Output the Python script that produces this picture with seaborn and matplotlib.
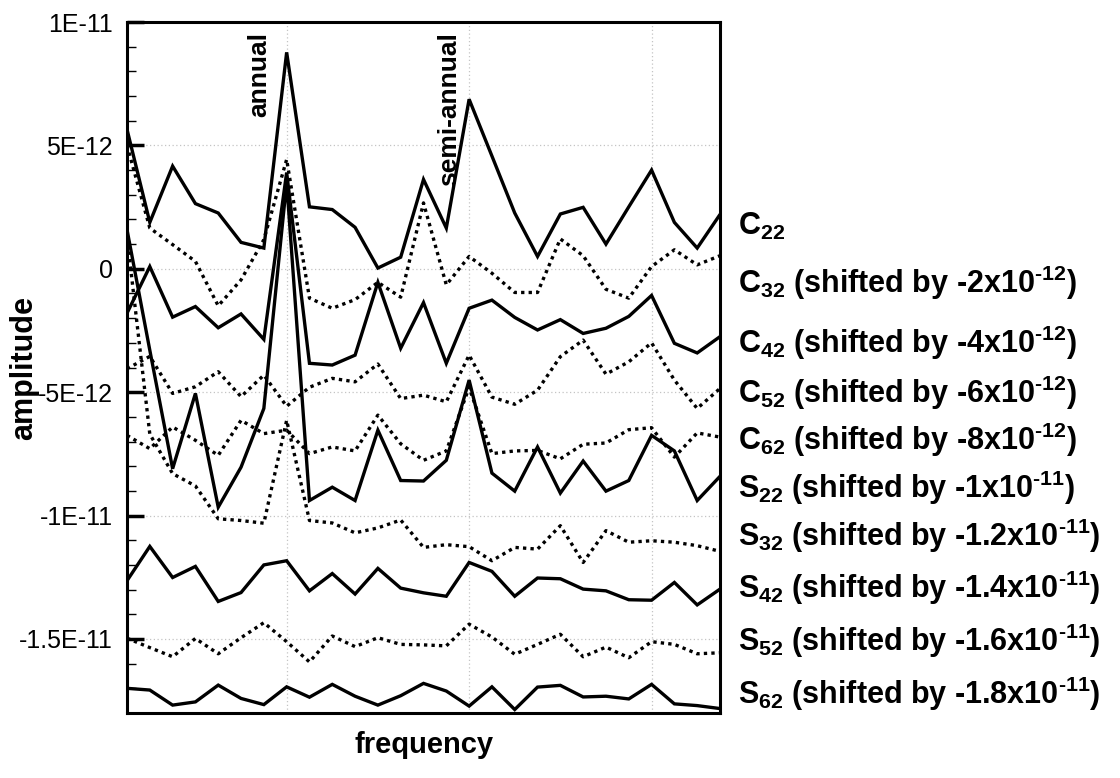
import numpy as np
import pandas as pd
import matplotlib
matplotlib.use("Agg")
import matplotlib.pyplot as plt
from matplotlib.ticker import MultipleLocator, FixedLocator
import seaborn as sns

# ---- data (values as plotted, in units of 1e-12, shifts already applied) ----
freq_index = list(range(27))

c22 = [5.65, 1.88, 4.16, 2.64, 2.26, 1.07, 0.84, 8.77, 2.51, 2.40, 1.68, 0.03, 0.47, 3.62,
       1.65, 6.87, 4.57, 2.26, 0.50, 2.22, 2.49, 1.00, 2.51, 4.00, 1.88, 0.84, 2.20]
c32 = [5.00, 1.65, 0.98, 0.30, -1.50, -0.45, 1.18, 4.43, -1.19, -1.60, -1.25, -0.55, -1.15, 2.67,
       -0.65, 0.50, -0.18, -0.96, -0.96, 1.21, 0.53, -0.83, -1.19, 0.09, 0.77, 0.16, 0.53]
c42 = [-1.80, 0.09, -1.96, -1.53, -2.39, -1.83, -2.86, 3.90, -3.83, -3.90, -3.50, -0.55, -3.22, -1.37,
       -3.83, -1.60, -1.27, -1.97, -2.48, -2.06, -2.62, -2.41, -1.93, -1.08, -3.02, -3.41, -2.75]
c52 = [-4.05, -3.55, -5.05, -4.78, -4.17, -5.18, -4.31, -5.57, -4.80, -4.44, -4.58, -3.86, -5.26, -5.12,
       -5.39, -3.50, -5.20, -5.49, -4.92, -3.56, -2.89, -4.27, -3.77, -3.00, -4.51, -5.66, -4.85]
c62 = [-6.75, -7.29, -6.41, -6.95, -7.56, -6.14, -6.68, -6.54, -7.49, -7.22, -7.38, -5.93, -7.09, -7.76,
       -7.38, -4.80, -7.49, -7.38, -7.36, -7.70, -7.11, -7.06, -6.52, -6.44, -7.63, -6.65, -6.82]
s22 = [1.59, -3.30, -8.10, -5.05, -9.66, -8.04, -5.66, 3.50, -9.39, -8.85, -9.39, -6.54, -8.58, -8.60,
       -7.76, -4.51, -8.28, -9.01, -7.22, -9.09, -7.79, -9.01, -8.58, -6.75, -7.38, -9.39, -8.41]
s32 = [1.30, -6.70, -8.30, -8.80, -10.13, -10.20, -10.31, -6.14, -10.20, -10.30, -10.70, -10.50, -10.18, -11.29,
       -11.18, -11.26, -11.83, -11.29, -11.36, -10.41, -11.90, -10.61, -11.08, -11.02, -11.08, -11.22, -11.45]
s42 = [-12.64, -11.25, -12.51, -12.06, -13.48, -13.12, -12.00, -11.83, -13.05, -12.35, -13.18, -12.14, -12.94, -13.13,
       -13.27, -11.90, -12.26, -13.27, -12.53, -12.56, -12.98, -13.05, -13.41, -13.43, -12.71, -13.62, -12.98]
s52 = [-14.97, -15.35, -15.72, -14.98, -15.60, -14.95, -14.34, -15.11, -15.93, -14.88, -15.31, -14.95, -15.22, -15.24,
       -15.28, -14.40, -14.92, -15.62, -15.22, -14.81, -15.72, -15.33, -15.76, -15.11, -15.22, -15.60, -15.56]
s62 = [-17.00, -17.07, -17.68, -17.55, -16.87, -17.41, -17.66, -16.94, -17.36, -16.84, -17.32, -17.68, -17.30, -16.80,
       -17.11, -17.72, -16.94, -17.86, -16.95, -16.88, -17.35, -17.32, -17.43, -16.84, -17.63, -17.70, -17.82]

series_names = ["C22", "C32", "C42", "C52", "C62", "S22", "S32", "S42", "S52", "S62"]
series_values = [c22, c32, c42, c52, c62, s22, s32, s42, s52, s62]
series_dotted = [False, True, False, True, True, False, True, False, True, False]

HY = "\u2010"
series_labels = [
    r"$\mathbf{C}_{\mathbf{22}}$",
    r"$\mathbf{C}_{\mathbf{32}}$ (shifted by -2x10$^{\mathbf{" + HY + r"12}}$)",
    r"$\mathbf{C}_{\mathbf{42}}$ (shifted by -4x10$^{\mathbf{" + HY + r"12}}$)",
    r"$\mathbf{C}_{\mathbf{52}}$ (shifted by -6x10$^{\mathbf{" + HY + r"12}}$)",
    r"$\mathbf{C}_{\mathbf{62}}$ (shifted by -8x10$^{\mathbf{" + HY + r"12}}$)",
    r"$\mathbf{S}_{\mathbf{22}}$ (shifted by -1x10$^{\mathbf{" + HY + r"11}}$)",
    r"$\mathbf{S}_{\mathbf{32}}$ (shifted by -1.2x10$^{\mathbf{" + HY + r"11}}$)",
    r"$\mathbf{S}_{\mathbf{42}}$ (shifted by -1.4x10$^{\mathbf{" + HY + r"11}}$)",
    r"$\mathbf{S}_{\mathbf{52}}$ (shifted by -1.6x10$^{\mathbf{" + HY + r"11}}$)",
    r"$\mathbf{S}_{\mathbf{62}}$ (shifted by -1.8x10$^{\mathbf{" + HY + r"11}}$)",
]
# label baseline heights (units 1e-12)
label_y = [1.38, -0.99, -3.43, -5.43, -7.36, -9.28, -11.22, -13.32, -15.49, -17.63]

ytick_vals = [10, 5, 0, -5, -10, -15]
ytick_labels = ["1E-11", "5E-12", "0", "-5E-12", "-1E-11", "-1.5E-11"]
xgrid_pos = [7, 15, 23]
annotations = [("annual", 5.8), ("semi-annual", 14.1)]

UNIT = 1e-12

# ---- style ----
sns.set_style("white")
plt.rcParams["font.family"] = ["Liberation Sans", "DejaVu Sans"]
plt.rcParams["mathtext.fontset"] = "custom"
plt.rcParams["mathtext.rm"] = "Liberation Sans"
plt.rcParams["mathtext.bf"] = "Liberation Sans:bold"
plt.rcParams["mathtext.it"] = "Liberation Sans:italic"
plt.rcParams["mathtext.sf"] = "Liberation Sans"
for key in ["text.color", "axes.labelcolor", "xtick.color", "ytick.color", "axes.edgecolor"]:
    plt.rcParams[key] = "black"

df = pd.DataFrame({
    "frequency": np.tile(freq_index, len(series_names)),
    "amplitude": np.concatenate([np.array(v) * UNIT for v in series_values]),
    "series": np.repeat(series_names, len(freq_index)),
})

fig = plt.figure(figsize=(11.2, 7.78), dpi=100)
ax = fig.add_axes([127 / 1120, 65 / 778, 593 / 1120, 691 / 778])

dash_map = {n: ((1, 1.25) if d else "") for n, d in zip(series_names, series_dotted)}
sns.lineplot(data=df, x="frequency", y="amplitude", hue="series", style="series",
             hue_order=series_names, style_order=series_names,
             palette={n: "black" for n in series_names}, dashes=dash_map,
             linewidth=2.4, estimator=None, sort=False, legend=False, ax=ax)
for ln in ax.get_lines():
    ln.set_dash_capstyle("butt")
    ln.set_solid_joinstyle("miter")

ax.set_xlim(0, 26)
ax.set_ylim(-18 * UNIT, 10 * UNIT)

ax.yaxis.set_major_locator(FixedLocator([v * UNIT for v in ytick_vals]))
ax.set_yticklabels(ytick_labels, fontsize=18)
ax.yaxis.set_minor_locator(MultipleLocator(1 * UNIT))
ax.tick_params(axis="y", which="major", direction="in", length=12.5, width=2.5, pad=10, left=True)
ax.tick_params(axis="y", which="minor", direction="in", length=6.5, width=1.0, left=True)

ax.xaxis.set_major_locator(FixedLocator(xgrid_pos))
ax.set_xticklabels([""] * len(xgrid_pos))
ax.tick_params(axis="x", which="both", length=0)

ax.grid(True, which="major", axis="both", color="#c4c4c4", linestyle=(0, (1, 2)), linewidth=0.9)
ax.set_axisbelow(True)

for sp in ax.spines.values():
    sp.set_visible(True)
    sp.set_color("black")
    sp.set_linewidth(2.2)

ax.set_xlabel("")
ax.set_ylabel("")
fig.text(24 / 1120, 1 - 368 / 778, "amplitude", rotation=90, ha="center", va="center",
         fontsize=22, fontweight="bold")
fig.text(424 / 1120, 1 - 745 / 778, "frequency", ha="center", va="center",
         fontsize=21, fontweight="bold")

for txt, xpos in annotations:
    ax.text(xpos, 9.6 * UNIT, txt, rotation=90, ha="center", va="top",
            fontsize=19, fontweight="bold")

trans = matplotlib.transforms.blended_transform_factory(ax.transAxes, ax.transData)
for lab, yb in zip(series_labels, label_y):
    ax.text(1.03, yb * UNIT, lab, transform=trans, ha="left", va="baseline",
            fontsize=22, fontweight="bold", clip_on=False)

fig.savefig("out.png", dpi=100, facecolor="white")
